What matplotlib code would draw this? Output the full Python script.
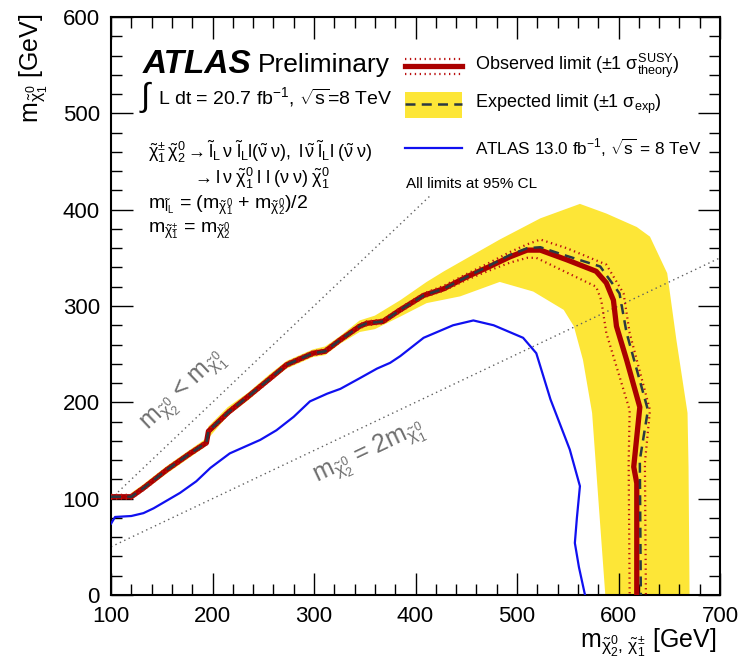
import numpy as np
import matplotlib
matplotlib.use('Agg')
import matplotlib.pyplot as plt
from matplotlib.ticker import MultipleLocator

plt.rcParams['font.family'] = ['Liberation Sans', 'DejaVu Sans']
plt.rcParams['mathtext.fontset'] = 'custom'
plt.rcParams['mathtext.rm'] = 'Liberation Sans'
plt.rcParams['mathtext.it'] = 'Liberation Sans'
plt.rcParams['mathtext.bf'] = 'Liberation Sans:bold'
plt.rcParams['mathtext.sf'] = 'Liberation Sans'

# ---------------- data (GeV) ----------------
obs_x = [100, 120, 132, 155, 178, 194, 196, 216, 235, 257, 273, 299, 311, 326, 345, 352, 368, 385,
         408, 428, 450, 473, 493, 510, 523, 549, 578, 588, 595, 598, 608, 621, 615, 618, 618]
obs_y = [102, 102, 111, 130, 147, 158, 170, 190, 206, 225, 239, 251, 253, 265, 279, 282, 284, 296,
         311, 318, 330, 341, 351, 358, 358, 348, 336, 324, 306, 279, 244, 195, 133, 116, 0]

exp_x = [100, 120, 132, 155, 178, 194, 196, 216, 235, 257, 273, 299, 311, 326, 345, 352, 368, 385,
         408, 428, 450, 473, 493, 510, 523, 549, 582, 601, 608, 629, 621, 622]
exp_y = [102, 102, 111, 130, 147, 158, 170, 190, 206, 225, 239, 251, 253, 265, 279, 282, 284, 296,
         311, 318, 330, 342, 353, 360, 361, 352, 341, 313, 272, 192, 140, 0]

thu_x = [100, 120, 132, 155, 178, 194, 196, 216, 235, 257, 273, 299, 311, 326, 345, 352, 368, 385,
         408, 428, 450, 473, 493, 510, 523, 549, 588, 605, 611, 631, 626, 627]
thu_y = [104, 104, 113, 132, 149, 160, 172, 192, 208, 227, 241, 253, 255, 267, 281, 284, 286, 298,
         313, 321, 333, 345, 356, 364, 369, 360, 343, 313, 272, 192, 137, 0]

thl_x = [100, 120, 132, 155, 178, 194, 196, 216, 235, 257, 273, 299, 311, 326, 345, 352, 368, 385,
         408, 428, 450, 473, 493, 510, 519, 578, 583, 588, 611, 610, 611]
thl_y = [100, 100, 109, 128, 145, 156, 168, 188, 204, 223, 237, 249, 251, 263, 277, 280, 282, 294,
         309, 316, 327, 337, 345, 350, 350, 320, 306, 272, 192, 137, 0]

band_out_x = [120, 132, 155, 178, 193, 196, 215, 235, 256, 273, 299, 311, 326, 345, 360, 385,
              411, 428, 483, 523, 562, 588, 618, 631, 648, 657, 668, 669, 670]
band_out_y = [106, 115, 134, 151, 162, 175, 195, 210, 229, 243, 255, 258, 269, 285, 290, 306,
              325, 336, 369, 391, 406, 396, 382, 372, 334, 265, 189, 133, 0]
band_in_x = [120, 132, 155, 178, 193, 197, 215, 235, 256, 273, 299, 311, 326, 345, 360, 385,
             411, 444, 483, 516, 546, 556, 565, 574, 579, 587]
band_in_y = [99, 108, 126, 143, 154, 164, 186, 202, 221, 235, 247, 249, 261, 273, 276, 289,
             303, 310, 325, 315, 296, 279, 244, 189, 116, 0]

prev_x = [100, 104, 120, 132, 142, 168, 184, 198, 217, 247, 263, 280, 296, 313, 326, 345, 362, 375,
          385, 408, 437, 457, 477, 506, 519, 533, 552, 562, 559, 557, 561, 567]
prev_y = [74, 81, 82, 85, 90, 106, 118, 132, 147, 161, 171, 185, 201, 209, 214, 225, 235, 241,
          248, 267, 280, 285, 280, 267, 251, 203, 151, 113, 80, 54, 29, 0]

kin_x = [100, 415]          # m_chi2 = m_chi1 line
half_x = [100, 700]         # m_chi2 = 2 m_chi1 line

# ---------------- figure ----------------
fig = plt.figure(figsize=(7.41, 6.62), dpi=100)
ax = fig.add_axes([111/741, 1-595/662, 609/741, 578/662])
ax.set_xlim(100, 700)
ax.set_ylim(0, 600)

ax.fill(np.concatenate([band_out_x, band_in_x[::-1]]),
        np.concatenate([band_out_y, band_in_y[::-1]]),
        color='#fde637', lw=0, zorder=1)

ax.plot(kin_x, kin_x, ls=(0, (1, 2.5)), color='#606060', lw=1.0, zorder=2)
ax.plot(half_x, np.array(half_x) / 2, ls=(0, (1, 2.5)), color='#606060', lw=1.0, zorder=2)

ax.plot(prev_x, prev_y, color='#1010f0', lw=1.6, zorder=3)
ax.plot(obs_x, obs_y, color='#aa0000', lw=3.8, zorder=4, solid_joinstyle='round')
ax.plot(thu_x, thu_y, color='#bb1111', lw=1.6, ls=(0, (0.6, 1.6)), zorder=4)
ax.plot(thl_x, thl_y, color='#bb1111', lw=1.6, ls=(0, (0.6, 1.6)), zorder=4)
ax.plot(exp_x, exp_y, color='#2b3942', lw=1.8, ls=(0, (4, 2.5)), zorder=5)

# ticks
ax.xaxis.set_major_locator(MultipleLocator(100))
ax.xaxis.set_minor_locator(MultipleLocator(20))
ax.yaxis.set_major_locator(MultipleLocator(100))
ax.yaxis.set_minor_locator(MultipleLocator(20))
ax.tick_params(which='both', direction='in', top=True, right=True, width=1.0, labelsize=16, color='black')
ax.tick_params(which='major', length=16, pad=8)
ax.tick_params(which='minor', length=8)
for s in ax.spines.values():
    s.set_linewidth(1.5)

# axis titles
fig.text(716/741, 1-648/662, r'$\mathrm{m}_{\tilde{\chi}_2^0,\,\tilde{\chi}_1^{\pm}}$ [GeV]', ha='right', va='baseline', fontsize=18)
fig.text(34/741, 1-14/662, r'$\mathrm{m}_{\tilde{\chi}_1^0}$ [GeV]', ha='center', va='top', rotation=90, fontsize=18)

T = ax.transAxes
ax.text(0.052, 0.917, 'ATLAS', fontsize=24, fontweight='bold', fontstyle='italic', transform=T, va='center')
ax.text(0.241, 0.917, 'Preliminary', fontsize=19, transform=T, va='center')
ax.text(0.046, 0.862, r'$\int$', fontsize=24, transform=T, va='center')
ax.text(0.077, 0.862, r'L dt = 20.7 fb$^{\mathregular{-1}}$, $\sqrt{\mathrm{s}}$=8 TeV', fontsize=14, transform=T, va='center')
ax.text(0.061, 0.766, r'$\tilde{\chi}_1^{\pm}\,\tilde{\chi}_2^0 \rightarrow \tilde{\mathrm{l}}_{\mathrm{L}}\,\nu\;\tilde{\mathrm{l}}_{\mathrm{L}}\mathrm{l}(\tilde{\nu}\;\nu),\; \mathrm{l}\,\tilde{\nu}\;\tilde{\mathrm{l}}_{\mathrm{L}}\mathrm{l}\;(\tilde{\nu}\;\nu)$', fontsize=13, transform=T, va='center')
ax.text(0.133, 0.721, r'$\rightarrow \mathrm{l}\,\nu\;\tilde{\chi}_1^0\;\mathrm{l}\;\mathrm{l}\;(\nu\;\nu)\;\tilde{\chi}_1^0$', fontsize=13, transform=T, va='center')
ax.text(0.061, 0.675, r'$\mathrm{m}_{\tilde{\mathrm{l}}_{\mathrm{L}}}$ = (m$_{\tilde{\chi}_1^0}$ + m$_{\tilde{\chi}_2^0}$)/2', fontsize=14, transform=T, va='center')
ax.text(0.061, 0.631, r'$\mathrm{m}_{\tilde{\chi}_1^{\pm}}$ = m$_{\tilde{\chi}_2^0}$', fontsize=14, transform=T, va='center')

ax.text(0.121, 0.351, r'$\mathrm{m}_{\tilde{\chi}_2^0}$ < $\mathrm{m}_{\tilde{\chi}_1^0}$', fontsize=18, color='#6e6e6e',
        rotation=43.5, rotation_mode='anchor', ha='center', va='center', transform=T)
ax.text(0.425, 0.246, r'$\mathrm{m}_{\tilde{\chi}_2^0}$ = 2$\mathrm{m}_{\tilde{\chi}_1^0}$', fontsize=18, color='#6e6e6e',
        rotation=25.4, rotation_mode='anchor', ha='center', va='center', transform=T)

# legend (manual)
lx0, lx1, tx = 0.483, 0.576, 0.598
ax.plot([lx0, lx1], [0.915, 0.915], color='#aa0000', lw=3.8, transform=T, clip_on=False)
ax.plot([lx0, lx1], [0.928, 0.928], color='#bb1111', lw=1.6, ls=(0, (0.6, 1.6)), transform=T)
ax.plot([lx0, lx1], [0.902, 0.902], color='#bb1111', lw=1.6, ls=(0, (0.6, 1.6)), transform=T)
ax.text(tx, 0.915, r'Observed limit ($\pm$1 $\sigma^{\mathrm{SUSY}}_{\mathrm{theory}}$)', fontsize=13, transform=T, va='center')
ax.fill([lx0, lx1, lx1, lx0], [0.826, 0.826, 0.871, 0.871], color='#fde637', lw=0, transform=T)
ax.plot([lx0, lx1], [0.849, 0.849], color='#2b3942', lw=1.8, ls=(0, (4, 2.5)), transform=T)
ax.text(tx, 0.849, r'Expected limit ($\pm$1 $\sigma_{\mathrm{exp}}$)', fontsize=13, transform=T, va='center')
ax.plot([lx0, lx1], [0.773, 0.773], color='#1010f0', lw=1.6, transform=T)
ax.text(tx, 0.773, r'ATLAS 13.0 fb$^{\mathregular{-1}}$, $\sqrt{\mathrm{s}}$ = 8 TeV', fontsize=12.3, transform=T, va='center')
ax.text(0.484, 0.711, 'All limits at 95% CL', fontsize=11, transform=T, va='center')

fig.savefig('out.png', dpi=100)
